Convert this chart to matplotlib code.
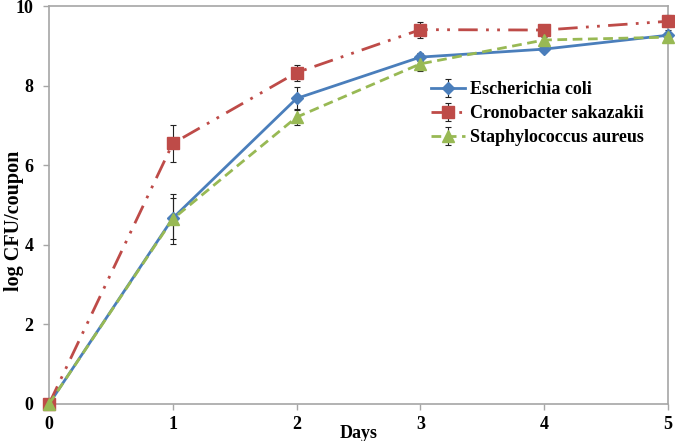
import matplotlib
matplotlib.use('Agg')
import matplotlib.pyplot as plt

days = [0, 1, 2, 3, 4, 5]

ecoli = [0, 4.67, 7.68, 8.72, 8.92, 9.27]
ecoli_err = [0, 0.52, 0.3, 0.1, 0.08, 0.12]

crono = [0, 6.55, 8.33, 9.41, 9.40, 9.62]
crono_err = [0, 0.47, 0.2, 0.2, 0.06, 0.15]

staph = [0, 4.65, 7.21, 8.55, 9.15, 9.22]
staph_err = [0, 0.62, 0.2, 0.17, 0.08, 0.1]

labels = ['Escherichia coli', 'Cronobacter sakazakii', 'Staphylococcus aureus']

plt.rcParams['font.family'] = ['Liberation Serif', 'DejaVu Serif']
plt.rcParams['font.weight'] = 'bold'

fig = plt.figure(figsize=(6.75, 4.41), dpi=100)
ax = fig.add_axes([0.0726, 0.084, 0.917, 0.902])

ax.errorbar(days, ecoli, yerr=ecoli_err, color='#4a7ebb', ecolor='#222222',
            elinewidth=0.8, capsize=2.5, capthick=0.8, linestyle='-', linewidth=2,
            marker='D', markersize=6, label=labels[0], zorder=3)
ax.errorbar(days, crono, yerr=crono_err, color='#be4b48', ecolor='#222222',
            elinewidth=0.8, capsize=2.5, capthick=0.8, linestyle=(0, (7, 3, 1, 3, 1, 3)),
            linewidth=2, marker='s', markersize=8, label=labels[1], zorder=3)
ax.errorbar(days, staph, yerr=staph_err, color='#98b954', ecolor='#222222',
            elinewidth=0.8, capsize=2.5, capthick=0.8, linestyle=(0, (3.5, 2)),
            linewidth=2, marker='^', markersize=8, label=labels[2], zorder=3)

ax.set_xlim(0, 5)
ax.set_ylim(0, 10)
ax.set_xticks(days)
ax.set_yticks([0, 2, 4, 6, 8, 10])
for s in ax.spines.values():
    s.set_color('#a6a6a6')
    s.set_linewidth(1.2)
ax.tick_params(axis='both', colors='#a6a6a6', labelcolor='black', labelsize=13,
               length=4, width=1)
ax.tick_params(axis='x', pad=5)
ax.tick_params(axis='y', pad=7)

ax.set_ylabel('log CFU/coupon', fontsize=14.5, fontweight='bold')
ax.yaxis.set_label_coords(-0.04, 0.46)
ax.set_xlabel('Days', fontsize=13, fontweight='bold')
ax.xaxis.set_label_coords(0.5, -0.052)

leg = ax.legend(loc='center left', bbox_to_anchor=(0.617, 0.73), frameon=False,
                fontsize=13, handlelength=1.9, labelspacing=0.4, borderpad=0,
                borderaxespad=0, handletextpad=0.25)
for t in leg.get_texts():
    t.set_fontweight('bold')

for line in ax.lines:
    line.set_clip_on(False)

fig.savefig('out.png', dpi=100)
